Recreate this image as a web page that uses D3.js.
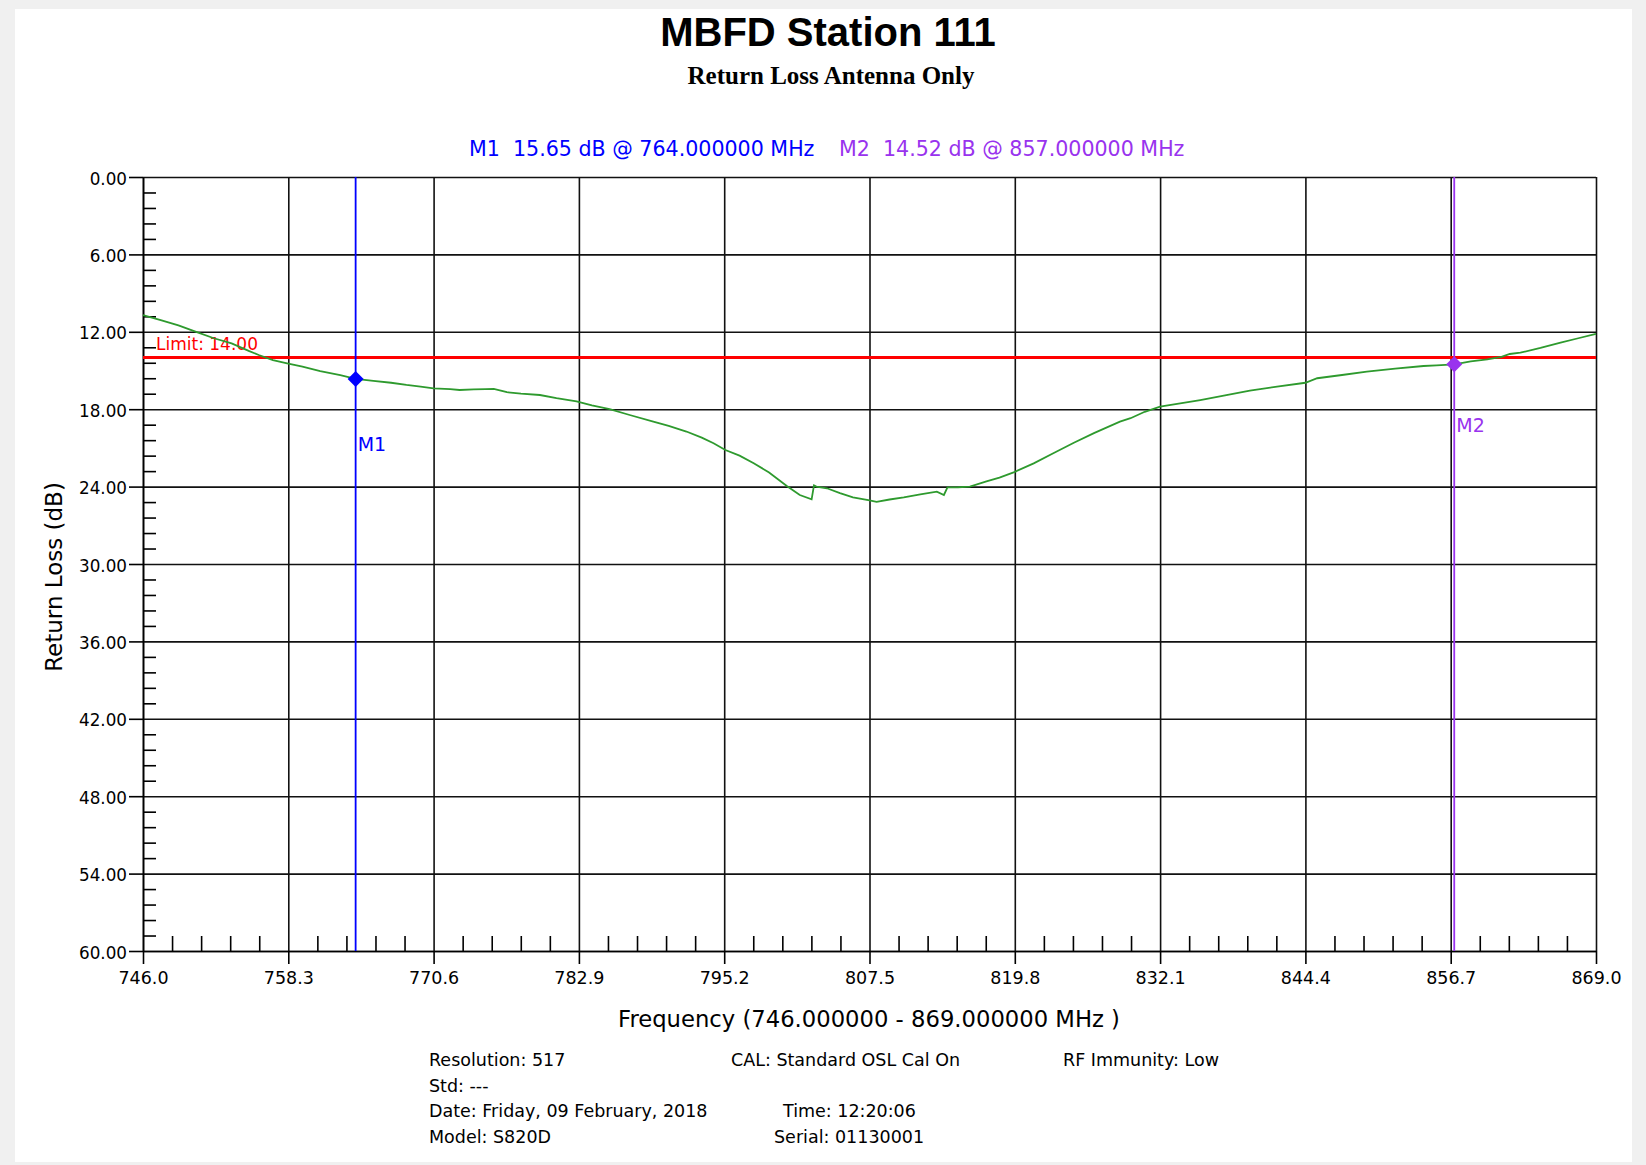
<!DOCTYPE html>
<html lang="en">
    <head>
        <meta charset="utf-8">
        <title>MBFD Station 111</title>
        <script src="https://d3js.org/d3.v7.min.js"></script>
    </head>
	<style>
	body {
		margin: 0;
		background: #f0f0f0;
	}
	.axis path,
	.axis line {
		fill: none;
		stroke: #000;
		stroke-width: 1.6px;
	}
	.grid line {
		stroke: #111;
		stroke-width: 1.6px;
	}
	.grid path {
		display: none;
	}
	text {
		font-family: "DejaVu Sans", sans-serif;
	}
	</style>
    <body>
        <script type="text/javascript">

            // frequency (MHz) / return loss (dB)
            var freq = [746.0, 747.5, 749.0, 750.5, 752.0, 753.5, 755.0, 755.8, 757.0, 758.2,
                759.5, 761.0, 762.7, 764.0, 765.5, 767.0, 768.3, 769.5, 770.6, 772.0,
                772.8, 774.0, 775.0, 775.7, 776.8, 778.0, 779.6, 781.0, 782.7, 784.0,
                785.5, 787.2, 789.2, 790.5, 792.0, 793.3, 794.3, 795.3, 796.5, 797.7,
                799.0, 800.5, 801.6, 802.6, 802.8, 803.0, 803.9, 805.0, 806.1, 807.4,
                808.1, 809.2, 810.4, 811.8, 813.2, 813.8, 814.1, 815.0, 816.0, 817.4,
                818.5, 819.7, 821.4, 823.1, 824.8, 826.5, 828.7, 829.6, 830.8, 832.1,
                833.8, 835.5, 837.6, 839.7, 842.0, 844.4, 845.4, 847.5, 849.6, 852.0,
                854.4, 855.5, 857.0, 858.4, 859.8, 861.0, 861.7, 862.6, 864.3, 866.0,
                867.5, 869.0];
            var returnLoss = [10.7, 11.1, 11.5, 12.0, 12.5, 12.9, 13.5, 13.8, 14.2, 14.44,
                14.7, 15.05, 15.35, 15.65, 15.81, 15.95, 16.12, 16.25, 16.38, 16.45,
                16.51, 16.47, 16.44, 16.42, 16.68, 16.8, 16.9, 17.15, 17.4, 17.7,
                18.0, 18.45, 18.96, 19.3, 19.73, 20.2, 20.64, 21.16, 21.6, 22.19,
                22.9, 23.95, 24.65, 24.99, 23.9, 24.0, 24.13, 24.5, 24.83, 25.04,
                25.19, 25.0, 24.83, 24.6, 24.39, 24.65, 24.06, 24.05, 24.0, 23.6,
                23.3, 22.9, 22.2, 21.4, 20.6, 19.85, 18.96, 18.7, 18.2, 17.8,
                17.55, 17.29, 16.93, 16.56, 16.25, 15.95, 15.6, 15.35, 15.09, 14.85,
                14.65, 14.6, 14.52, 14.3, 14.13, 13.95, 13.72, 13.62, 13.25, 12.84,
                12.5, 12.17];

            var xTickLabels = ["746.0", "758.3", "770.6", "782.9", "795.2", "807.5",
                "819.8", "832.1", "844.4", "856.7", "869.0"];
            var yTickLabels = ["0.00", "6.00", "12.00", "18.00", "24.00", "30.00",
                "36.00", "42.00", "48.00", "54.00", "60.00"];

            var limitValue = 14.00;
            var markerNames = ["M1", "M2"];
            var markerFreq = [764.0, 857.0];
            var markerValue = [15.65, 14.52];
            var markerColor = ["#0000ff", "#9933ee"];

            var infoLines = [
                ["Resolution: 517", "CAL: Standard OSL Cal On", "RF Immunity: Low"],
                ["Std: ---", "", ""],
                ["Date: Friday, 09 February, 2018", "Time: 12:20:06", ""],
                ["Model: S820D", "Serial: 01130001", ""]
            ];

            var data = [];
            for (var i = 0; i < freq.length; i++) {
                data.push({ f: freq[i], rl: returnLoss[i] });
            }

//Setting the margin
    var margin = { top: 177, right: 50, bottom: 214, left: 143 },
        width = 1646 - margin.left - margin.right,
        height = 1165 - margin.top - margin.bottom;

    var x = d3.scaleLinear()
        .domain([746, 869])
        .range([0, width]);

    var y = d3.scaleLinear()
        .domain([0, 60])
        .range([0, height]);

    var xMajor = xTickLabels.map(Number);
    var yMajor = yTickLabels.map(Number);
    var xMinor = [], yMinor = [];
    for (var i = 0; i < xMajor.length - 1; i++) {
        for (var k = 1; k < 5; k++) {
            xMinor.push(xMajor[i] + k * (xMajor[i + 1] - xMajor[i]) / 5);
            yMinor.push(yMajor[i] + k * (yMajor[i + 1] - yMajor[i]) / 5);
        }
    }

    var chart = d3.select('body')
        .append('svg')
        .attr('width', 1646)
        .attr('height', 1165)
        .style('display', 'block');

    // panel
    chart.append('rect')
        .attr('x', 15).attr('y', 9)
        .attr('width', 1617).attr('height', 1153)
        .attr('fill', '#fff');

    // titles
    chart.append('text')
        .attr('x', 828).attr('y', 46)
        .attr('text-anchor', 'middle')
        .style('font-family', '"Liberation Sans", Arial, sans-serif')
        .style('font-weight', 'bold')
        .style('font-size', '40px')
        .text('MBFD Station 111');
    chart.append('text')
        .attr('x', 831).attr('y', 84)
        .attr('text-anchor', 'middle')
        .style('font-family', '"Liberation Serif", "Times New Roman", serif')
        .style('font-weight', 'bold')
        .style('font-size', '25px')
        .text('Return Loss Antenna Only');

    // marker readout
    var readX = [469, 839];
    markerNames.forEach(function (m, i) {
        chart.append('text')
            .attr('x', readX[i]).attr('y', 156)
            .attr('fill', markerColor[i])
            .style('font-size', '20.6px')
            .style('white-space', 'pre')
            .text(m + '  ' + markerValue[i].toFixed(2) + ' dB @ ' + markerFreq[i].toFixed(6) + ' MHz');
    });

    var main = chart.append('g')
        .attr('transform', 'translate(' + margin.left + ',' + margin.top + ')');

    // grid
    main.append('g')
        .attr('class', 'grid')
        .call(d3.axisBottom(x).tickValues(xMajor).tickSize(height).tickFormat(''));
    main.append('g')
        .attr('class', 'grid')
        .call(d3.axisRight(y).tickValues(yMajor).tickSize(width).tickFormat(''));

    // minor ticks
    main.append('g')
        .attr('class', 'axis')
        .call(d3.axisRight(y).tickValues(yMinor).tickSize(13).tickSizeOuter(0).tickFormat(''))
        .select('.domain').remove();
    main.append('g')
        .attr('class', 'axis')
        .attr('transform', 'translate(0,' + height + ')')
        .call(d3.axisTop(x).tickValues(xMinor).tickSize(15).tickSizeOuter(0).tickFormat(''))
        .select('.domain').remove();

    // major axes
    var xAx = main.append('g')
        .attr('class', 'axis')
        .attr('transform', 'translate(0,' + height + ')')
        .call(d3.axisBottom(x).tickValues(xMajor).tickSize(13).tickSizeOuter(0)
            .tickFormat(function (d, i) { return xTickLabels[i]; }));
    xAx.selectAll('text')
        .attr('y', 20)
        .attr('dy', '0.76em')
        .style('font-size', '17.5px')
        .attr('fill', '#000');

    var yAx = main.append('g')
        .attr('class', 'axis')
        .call(d3.axisLeft(y).tickValues(yMajor).tickSize(14).tickSizeOuter(0)
            .tickFormat(function (d, i) { return yTickLabels[i]; }));
    yAx.selectAll('text')
        .attr('x', -16)
        .attr('dy', '0.42em')
        .style('font-size', '16.8px')
        .attr('fill', '#000');

    // axis names
    chart.append('text')
        .attr('transform', 'translate(62,577) rotate(-90)')
        .attr('text-anchor', 'middle')
        .style('font-size', '23px')
        .text('Return Loss (dB)');
    chart.append('text')
        .attr('x', 869).attr('y', 1027)
        .attr('text-anchor', 'middle')
        .style('font-size', '22.7px')
        .style('white-space', 'pre')
        .text('Frequency (746.000000 - 869.000000 MHz )');

    // limit line
    main.append('line')
        .attr('x1', 0).attr('x2', width)
        .attr('y1', y(limitValue)).attr('y2', y(limitValue))
        .attr('stroke', '#ff0000')
        .attr('stroke-width', 3);
    main.append('text')
        .attr('x', 13).attr('y', y(limitValue) - 8)
        .attr('fill', '#ff0000')
        .style('font-size', '17px')
        .text('Limit: ' + limitValue.toFixed(2));

    // trace
    main.append('path')
        .datum(data)
        .attr('fill', 'none')
        .attr('stroke', '#2e9a2e')
        .attr('stroke-width', 1.8)
        .attr('d', d3.line()
            .x(function (d) { return x(d.f); })
            .y(function (d) { return y(d.rl); }));

    // markers
    var labelY = [451, 432];
    markerNames.forEach(function (m, i) {
        main.append('line')
            .attr('x1', x(markerFreq[i])).attr('x2', x(markerFreq[i]))
            .attr('y1', 0).attr('y2', height)
            .attr('stroke', markerColor[i])
            .attr('stroke-width', 1.8);
        main.append('path')
            .attr('d', d3.symbol().type(d3.symbolSquare).size(128))
            .attr('transform', 'translate(' + x(markerFreq[i]) + ',' + y(markerValue[i]) + ') rotate(45)')
            .attr('fill', markerColor[i]);
        main.append('text')
            .attr('x', x(markerFreq[i]) + 2)
            .attr('y', labelY[i] - margin.top)
            .attr('fill', markerColor[i])
            .style('font-size', '19px')
            .text(m);
    });

    // info block
    var infoX = [429, 731, 1063];
    var infoX2 = [429, 783, 1063];
    var infoX3 = [429, 774, 1063];
    var cols = [infoX, infoX, infoX2, infoX3];
    var infoY = [1066, 1092, 1117, 1143];
    infoLines.forEach(function (row, r) {
        row.forEach(function (t, c) {
            if (!t) return;
            chart.append('text')
                .attr('x', cols[r][c]).attr('y', infoY[r])
                .style('font-size', '17.5px')
                .text(t);
        });
    });

        </script>
    </body>
</html>
